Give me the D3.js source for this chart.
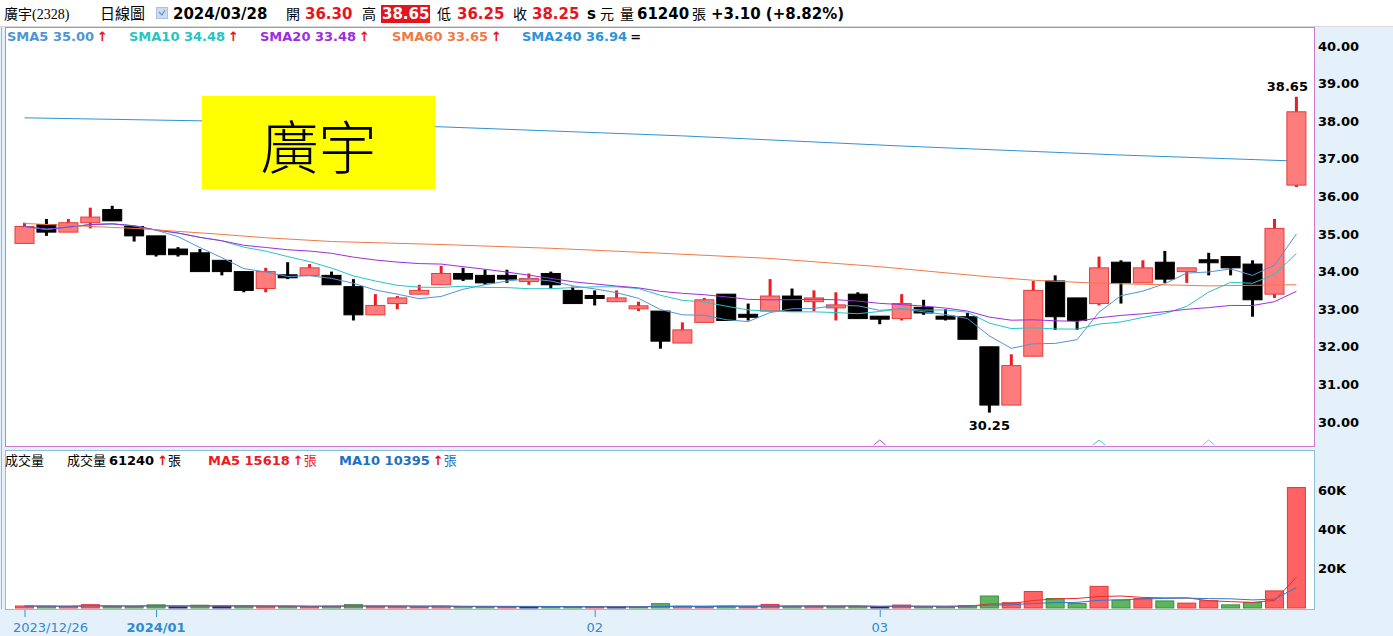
<!DOCTYPE html>
<html>
<head>
<meta charset="utf-8">
<script src="https://cdn.jsdelivr.net/npm/d3@7"></script>
<style>
  body { margin: 0; background: #e4f1fb; }
  text { font-family: "DejaVu Sans", "Noto Sans CJK TC", sans-serif; }
</style>
</head>
<body>
<div id="chart"></div>
<script>
// trading days shown on the chart
const dates = ["2023/12/26","2023/12/27","2023/12/28","2023/12/29",
  "2024/01/02","2024/01/03","2024/01/04","2024/01/05","2024/01/08","2024/01/09","2024/01/10",
  "2024/01/11","2024/01/12","2024/01/15","2024/01/16","2024/01/17","2024/01/18","2024/01/19",
  "2024/01/22","2024/01/23","2024/01/24","2024/01/25","2024/01/26","2024/01/29","2024/01/30",
  "2024/01/31","2024/02/01","2024/02/02","2024/02/05","2024/02/15","2024/02/16","2024/02/19",
  "2024/02/20","2024/02/21","2024/02/22","2024/02/23","2024/02/26","2024/02/27","2024/02/29",
  "2024/03/01","2024/03/04","2024/03/05","2024/03/06","2024/03/07","2024/03/08","2024/03/11",
  "2024/03/12","2024/03/13","2024/03/14","2024/03/15","2024/03/18","2024/03/19","2024/03/20",
  "2024/03/21","2024/03/22","2024/03/25","2024/03/26","2024/03/27","2024/03/28"];

const opens = [34.75,35.25,35.05,35.30,35.65,35.20,34.95,34.60,34.50,34.30,34.00,33.55,33.90,33.90,33.90,
  33.60,32.85,33.15,33.40,33.65,33.95,33.90,33.90,33.75,33.95,33.50,33.35,33.20,33.05,32.95,32.10,
  32.65,33.40,32.85,32.95,33.35,33.20,33.05,33.40,32.80,32.75,33.05,32.80,32.80,32.00,30.45,31.75,
  33.75,33.30,33.15,34.25,33.70,34.25,34.00,34.30,34.40,34.20,33.40,36.30];
const highs = [35.30,35.40,35.40,35.70,35.75,35.20,34.95,34.65,34.60,34.30,34.00,34.10,34.25,34.20,34.00,
  33.80,33.40,33.35,33.65,34.15,34.10,34.05,34.05,33.95,34.00,33.60,33.50,33.50,33.20,32.95,32.65,
  33.30,33.40,33.15,33.80,33.55,33.50,33.45,33.45,32.80,33.40,33.25,33.00,32.90,32.00,31.80,33.75,
  33.90,33.30,34.40,34.30,34.30,34.55,34.10,34.50,34.40,34.30,35.40,38.65];
const lows = [34.75,34.95,35.05,35.15,35.35,34.80,34.40,34.40,34.00,33.90,33.45,33.45,33.80,33.90,33.65,
  32.70,32.85,33.00,33.40,33.65,33.75,33.65,33.70,33.65,33.55,33.15,33.10,33.20,32.95,31.95,32.10,
  32.65,32.70,32.70,32.95,32.95,32.95,32.70,32.75,32.60,32.70,32.85,32.70,32.20,30.25,30.45,31.75,
  32.45,32.45,33.10,33.15,33.70,33.70,33.70,33.90,33.90,32.80,33.30,36.25];
const closes = [35.20,35.05,35.30,35.45,35.35,34.95,34.45,34.45,34.00,34.00,33.50,34.00,33.85,34.10,33.65,
  32.85,33.10,33.30,33.50,33.95,33.80,33.70,33.80,33.80,33.65,33.15,33.30,33.30,33.05,32.15,32.45,
  33.25,32.70,32.80,33.35,32.95,33.30,33.10,32.75,32.75,33.15,32.90,32.75,32.20,30.45,31.50,33.50,
  32.80,32.70,34.10,33.70,34.10,33.80,34.10,34.25,34.10,33.25,35.15,38.25];
// volume in 張
const volumes = [1000,900,800,1700,800,800,1600,600,1400,900,1000,900,800,700,900,
  1700,900,800,600,900,700,600,600,500,600,600,600,500,500,2200,900,
  600,900,600,1800,900,900,800,800,600,1500,600,600,1200,6100,2700,8400,
  4800,2300,11000,4000,4800,3600,2500,3700,1600,2800,8700,61240];

// long moving averages (index -> value)
const sma60Idx = [0,5,9,11,14,19,24,29,34,39,44,46,49,54,58];
const sma60Val = [35.28,35.15,34.99,34.90,34.80,34.72,34.62,34.49,34.35,34.13,33.86,33.77,33.69,33.62,33.65];
const sma240Idx = [0,8,19,30,40,50,58];
const sma240Val = [38.09,38.01,37.85,37.61,37.34,37.10,36.94];

// legend values shown in the header lines
const smaNames = ["SMA5","SMA10","SMA20","SMA60","SMA240"];
const smaLegend = ["35.00","34.48","33.48","33.65","36.94"];
const smaColors = ["#4f95d8","#27c4c4","#9b2fe0","#f07a45","#2f93d6"];
const smaLegendX = [7,129,260,392,522];

// axis ticks
const priceTicks = [30,31,32,33,34,35,36,37,38,39,40];
const volTicks = [20000,40000,60000];
const xTickDates = ["2023/12/26","2024/01/04","2024/02/01","2024/03/01"];
const xTickLabels = ["2023/12/26","2024/01","02","03"];

// little markers at the bottom of the price panel
const markIdx = [39,49,54];
const markColors = ["#a845e0","#3cc8d0","#7fc0e8"];

//=========================================================================
// Set Dimensions
//=========================================================================

var width = 1393,
    height = 636;

var pLeft = 6, pRight = 1315,
    pTop = 27, pBottom = 446,
    vTop = 450, vBottom = 609;

var barWidth = 19;

var svg = d3.select("#chart")
  .append("svg")
  .attr("width", width)
  .attr("height", height)
  .style("display", "block");

//=========================================================================
// Scales
//=========================================================================

var x = d3.scalePoint()
  .domain(dates)
  .range([24.5, 1296.4]);

var y = d3.scaleLinear()
  .domain([30, 40])
  .range([422, 46]);

var yVol = d3.scaleLinear()
  .domain([0, 60000])
  .range([608, 490]);

var data = dates.map((d, i) => ({
  date: d, i: i,
  open: opens[i], high: highs[i], low: lows[i], close: closes[i],
  vol: volumes[i],
  prev: i == 0 ? opens[i] : closes[i - 1]
}));

function sma(values, n){
  return values.map((v, i) => d3.mean(values.slice(Math.max(0, i - n + 1), i + 1)));
}

//=========================================================================
// Backgrounds / panels
//=========================================================================

svg.append("rect").attr("x", 0).attr("y", 0).attr("width", width).attr("height", 26)
  .attr("fill", "#ffffff");
svg.append("line").attr("x1", 0).attr("x2", width).attr("y1", 26.5).attr("y2", 26.5)
  .attr("stroke", "#d8d8d8");

svg.append("rect")
  .attr("x", pLeft - 0.5).attr("y", pTop + 0.5)
  .attr("width", pRight - pLeft).attr("height", pBottom - pTop)
  .attr("fill", "#ffffff").attr("stroke", "#cf78cf");

svg.append("rect")
  .attr("x", pLeft - 0.5).attr("y", vTop + 0.5)
  .attr("width", pRight - pLeft).attr("height", vBottom - vTop)
  .attr("fill", "#ffffff").attr("stroke", "#8cbfe0");

svg.append("line").attr("x1", 1.5).attr("x2", 1.5).attr("y1", pTop).attr("y2", vBottom)
  .attr("stroke", "#b0b0b0");

var defs = svg.append("defs");
defs.append("clipPath").attr("id", "clipP")
  .append("rect").attr("x", pLeft).attr("y", pTop + 1).attr("width", pRight - pLeft - 1).attr("height", pBottom - pTop - 1);
defs.append("clipPath").attr("id", "clipV")
  .append("rect").attr("x", pLeft).attr("y", vTop + 1).attr("width", pRight - pLeft - 1).attr("height", vBottom - vTop - 1);

//=========================================================================
// Header
//=========================================================================

var header = svg.append("g").attr("font-size", 15);

function htext(xp, str, opts){
  opts = opts || {};
  return header.append("text")
    .attr("x", xp).attr("y", 19)
    .attr("fill", opts.fill || "#000")
    .attr("font-weight", opts.bold ? "bold" : "normal")
    .attr("font-size", opts.size || 15)
    .style("font-family", opts.family || null)
    .text(str);
}

var cjk = "'Noto Sans CJK TC'";

htext(4, "廣宇(2328)", {size: 14, family: "'Liberation Serif', 'Noto Sans CJK TC'"});
htext(100, "日線圖", {size: 15, family: cjk});
header.append("rect").attr("x", 156.5).attr("y", 7.5).attr("width", 11).attr("height", 11)
  .attr("fill", "#c9dcf2").attr("stroke", "#a9c2e2");
header.append("path").attr("d", "M159,12 L162,15 L165,10").attr("fill", "none")
  .attr("stroke", "#6f8fbf").attr("stroke-width", 1.2);
htext(173, "2024/03/28", {bold: true});
htext(286, "開", {size: 14, family: cjk});
htext(305, "36.30", {bold: true, fill: "#e8141c"});
htext(362, "高", {size: 14, family: cjk});
header.append("rect").attr("x", 381).attr("y", 5).attr("width", 49).attr("height", 18).attr("fill", "#e3141c");
htext(382, "38.65", {bold: true, fill: "#ffffff"});
htext(437, "低", {size: 14, family: cjk});
htext(457, "36.25", {bold: true, fill: "#e8141c"});
htext(513, "收", {size: 14, family: cjk});
htext(532, "38.25", {bold: true, fill: "#e8141c"});
htext(587, "s", {bold: true});
htext(600, "元", {size: 14, family: cjk});
htext(620, "量", {size: 14, family: cjk});
htext(637, "61240", {bold: true});
htext(692, "張", {size: 14, family: cjk});
htext(711, "+3.10 (+8.82%)", {bold: true});

//=========================================================================
// SMA legend
//=========================================================================

var legend = svg.append("g").attr("font-size", 13).attr("font-weight", "bold");

smaNames.forEach((name, k) => {
  var t = legend.append("text")
    .attr("x", smaLegendX[k]).attr("y", 41)
    .attr("fill", smaColors[k]);
  t.append("tspan").text(name + " " + smaLegend[k]);
  t.append("tspan").attr("dx", 3)
    .attr("fill", k == 4 ? "#000" : "#e8141c")
    .text(k == 4 ? "=" : "↑");
});

//=========================================================================
// Long MA line + yellow name box
//=========================================================================

var sma240Line = d3.line()
  .x((d, k) => x(dates[sma240Idx[k]]))
  .y(d => y(d));

svg.append("g").attr("clip-path", "url(#clipP)")
  .append("path")
  .attr("d", sma240Line(sma240Val))
  .attr("fill", "none").attr("stroke", smaColors[4]).attr("stroke-width", 1);

svg.append("rect").attr("x", 202).attr("y", 96).attr("width", 233).attr("height", 93)
  .attr("fill", "#ffff00");
svg.append("text").attr("x", 318.5).attr("y", 169)
  .attr("text-anchor", "middle").attr("font-size", 58)
  .style("font-family", cjk)
  .attr("font-weight", 300)
  .text("廣宇");

//=========================================================================
// Candles
//=========================================================================

var gPrice = svg.append("g").attr("clip-path", "url(#clipP)");

function isUp(d){ return d.close >= d.open; }

gPrice.selectAll("line.wick")
  .data(data)
  .enter()
  .append("line")
  .attr("class", "wick")
  .attr("x1", d => x(d.date)).attr("x2", d => x(d.date))
  .attr("y1", d => y(d.high)).attr("y2", d => y(d.low))
  .attr("stroke", d => isUp(d) ? "#ea1c24" : "#000")
  .attr("stroke-width", 3);

gPrice.selectAll("rect.body")
  .data(data)
  .enter()
  .append("rect")
  .attr("class", "body")
  .attr("x", d => x(d.date) - barWidth / 2)
  .attr("width", barWidth)
  .attr("y", d => {
    var h = Math.abs(y(d.open) - y(d.close));
    return h < 3 ? (y(d.open) + y(d.close)) / 2 - 1.5 : y(Math.max(d.open, d.close));
  })
  .attr("height", d => Math.max(3, Math.abs(y(d.open) - y(d.close))))
  .attr("fill", d => isUp(d) ? "#ff7c7c" : "#000")
  .attr("stroke", d => isUp(d) ? "#e83a3a" : "#000")
  .attr("stroke-width", 1);

//=========================================================================
// Moving average lines
//=========================================================================

var maLine = d3.line()
  .x((d, i) => x(dates[i]))
  .y(d => y(d));

[[5, 0], [10, 1], [20, 2]].forEach(p => {
  gPrice.append("path")
    .attr("d", maLine(sma(closes, p[0])))
    .attr("fill", "none")
    .attr("stroke", smaColors[p[1]])
    .attr("stroke-width", 1);
});

var sma60Line = d3.line()
  .x((d, k) => x(dates[sma60Idx[k]]))
  .y(d => y(d));

gPrice.append("path")
  .attr("d", sma60Line(sma60Val))
  .attr("fill", "none").attr("stroke", smaColors[3]).attr("stroke-width", 1);

// high / low labels
var hiIdx = d3.maxIndex(highs), loIdx = d3.minIndex(lows);
svg.append("text")
  .attr("x", x(dates[hiIdx]) - 9).attr("y", y(highs[hiIdx]) - 6)
  .attr("text-anchor", "middle").attr("font-size", 13).attr("font-weight", "bold")
  .text(d3.format(".2f")(highs[hiIdx]));
svg.append("text")
  .attr("x", x(dates[loIdx])).attr("y", y(lows[loIdx]) + 17)
  .attr("text-anchor", "middle").attr("font-size", 13).attr("font-weight", "bold")
  .text(d3.format(".2f")(lows[loIdx]));

// markers
svg.selectAll("path.mark")
  .data(markIdx)
  .enter()
  .append("path")
  .attr("class", "mark")
  .attr("d", d => `M${x(dates[d]) - 6},${pBottom - 1} L${x(dates[d])},${pBottom - 6} L${x(dates[d]) + 6},${pBottom - 1}`)
  .attr("fill", "none")
  .attr("stroke", (d, k) => markColors[k])
  .attr("stroke-width", 1);

//=========================================================================
// Price axis
//=========================================================================

var yAxis = svg.append("g")
  .attr("transform", `translate(${pRight + 1},0)`)
  .call(d3.axisRight(y).tickValues(priceTicks).tickSize(0).tickPadding(2).tickFormat(d3.format(".2f")));
yAxis.select(".domain").remove();
yAxis.selectAll("text")
  .attr("font-size", 13).attr("font-weight", "bold").attr("fill", "#000")
  .style("font-family", "'DejaVu Sans'");

//=========================================================================
// Volume
//=========================================================================

var gVol = svg.append("g").attr("clip-path", "url(#clipV)");

function volFill(d){
  if (d.close > d.prev) return "#ff6262";
  if (d.close < d.prev) return "#5db65d";
  return "#1d2f70";
}
function volStroke(d){
  if (d.close > d.prev) return "#dd3a3a";
  if (d.close < d.prev) return "#3d8f3d";
  return "#1d2f70";
}

gVol.selectAll("rect.vol")
  .data(data)
  .enter()
  .append("rect")
  .attr("class", "vol")
  .attr("x", d => x(d.date) - barWidth / 2 + 0.5)
  .attr("width", barWidth - 1)
  .attr("y", d => yVol(d.vol))
  .attr("height", d => yVol(0) - yVol(d.vol))
  .attr("fill", volFill)
  .attr("stroke", volStroke)
  .attr("stroke-width", 1);

var volLine = d3.line()
  .x((d, i) => x(dates[i]))
  .y(d => yVol(d));

gVol.append("path")
  .attr("d", volLine(sma(volumes, 5)))
  .attr("fill", "none").attr("stroke", "#f02a2a").attr("stroke-width", 1);
gVol.append("path")
  .attr("d", volLine(sma(volumes, 10)))
  .attr("fill", "none").attr("stroke", "#2f78c6").attr("stroke-width", 1);

var vAxis = svg.append("g")
  .attr("transform", `translate(${pRight + 1},0)`)
  .call(d3.axisRight(yVol).tickValues(volTicks).tickSize(0).tickPadding(2).tickFormat(d => (d / 1000) + "K"));
vAxis.select(".domain").remove();
vAxis.selectAll("text")
  .attr("font-size", 13).attr("font-weight", "bold").attr("fill", "#000")
  .style("font-family", "'DejaVu Sans'");

// volume legend
var vleg = svg.append("g").attr("font-size", 13);
vleg.append("text").attr("x", 5).attr("y", 465).style("font-family", cjk).text("成交量");
var t1 = vleg.append("text").attr("x", 67).attr("y", 465);
t1.append("tspan").style("font-family", cjk).text("成交量 ");
t1.append("tspan").attr("font-weight", "bold").text("61240");
t1.append("tspan").attr("dx", 3).attr("fill", "#e8141c").attr("font-weight", "bold").text("↑");
t1.append("tspan").style("font-family", cjk).text("張");
var t2 = vleg.append("text").attr("x", 208).attr("y", 465).attr("fill", "#ea1c24");
t2.append("tspan").attr("font-weight", "bold").text("MA5 15618");
t2.append("tspan").attr("dx", 3).attr("font-weight", "bold").text("↑");
t2.append("tspan").style("font-family", cjk).text("張");
var t3 = vleg.append("text").attr("x", 339).attr("y", 465).attr("fill", "#1f70c0");
t3.append("tspan").attr("font-weight", "bold").text("MA10 10395");
t3.append("tspan").attr("dx", 3).attr("font-weight", "bold").attr("fill", "#e8141c").text("↑");
t3.append("tspan").style("font-family", cjk).text("張");

//=========================================================================
// Date axis
//=========================================================================

var xAxis = svg.append("g");
xTickDates.forEach((d, k) => {
  var xp = x(d);
  xAxis.append("line")
    .attr("x1", xp + 0.5).attr("x2", xp + 0.5)
    .attr("y1", vBottom + 1).attr("y2", vBottom + 8)
    .attr("stroke", "#3a8fcf");
  xAxis.append("text")
    .attr("x", k == 0 ? 13 : xp)
    .attr("y", 632)
    .attr("text-anchor", k == 0 ? "start" : "middle")
    .attr("font-size", 13)
    .attr("font-weight", k == 1 ? "bold" : "normal")
    .attr("fill", "#2f8ad0")
    .text(xTickLabels[k]);
});
</script>
</body>
</html>
